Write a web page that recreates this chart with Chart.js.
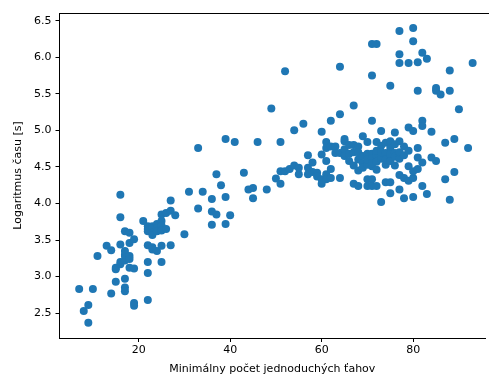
<!DOCTYPE html>
<html>
<head>
<meta charset="utf-8">
<script src="https://cdn.jsdelivr.net/npm/chart.js@4/dist/chart.umd.min.js"></script>
<style>
html,body{margin:0;padding:0;background:#fff;overflow:hidden;}
#wrap{position:absolute;left:0;top:0;width:489px;height:379px;}
</style>
</head>
<body>
<div id="wrap"><canvas id="c" width="489" height="379"></canvas></div>
<script>
const xLabel = "Minimálny počet jednoduchých ťahov";
const yLabel = "Logaritmus času [s]";
const xTicks = [20, 40, 60, 80];
const yTicks = [2.5, 3.0, 3.5, 4.0, 4.5, 5.0, 5.5, 6.0, 6.5];

const moves = [
 7,8,9,9,10,11,13,14,14,15,15,15,16,16,16,16,16,17,17,17,17,17,17,17,17,18,18,18,18,18,19,19,19,19,
 21,22,22,22,22,22,22,22,23,23,23,23,23,23,24,24,24,24,25,25,25,25,25,25,26,26,27,27,27,28,30,31,33,33,34,36,36,36,37,37,38,39,39,39,40,41,43,44,45,45,46,48,49,50,51,51,51,52,52,53,54,54,55,55,56,
 57,57,57,58,58,59,59,60,60,60,60,61,61,61,61,61,62,62,62,62,63,63,64,64,64,64,65,65,65,65,66,66,66,67,67,67,67,67,68,68,68,68,68,69,69,69,69,
 70,70,70,70,70,70,71,71,71,71,71,71,71,71,71,72,72,72,72,72,72,72,73,73,73,73,73,74,74,74,74,74,75,75,75,75,75,75,75,76,76,76,76,76,
 77,77,77,77,77,77,77,77,78,78,78,78,79,79,79,79,79,80,80,80,80,80,80,81,81,81,81,81,82,82,82,82,82,83,83,84,84,85,85,85,86,87,87,88,88,88,89,89,90,92,93
];
const logTime = [
 2.83,2.53,2.61,2.37,2.83,3.28,3.42,3.36,2.77,3.12,3.10,2.93,4.12,3.81,3.44,3.17,3.20,3.62,3.35,3.28,3.22,3.30,2.97,2.85,2.80,3.60,3.46,3.28,3.24,3.12,3.51,3.11,2.64,2.60,
 3.76,3.43,3.20,3.05,2.68,3.69,3.65,3.62,3.69,3.66,3.60,3.57,3.40,3.37,3.72,3.66,3.62,3.35,3.76,3.85,3.70,3.63,3.42,3.20,3.65,3.87,4.04,3.90,3.43,3.84,3.58,4.16,3.93,4.76,4.16,4.06,3.89,3.71,4.40,3.85,4.25,4.09,3.72,4.88,3.84,4.84,4.42,4.19,4.21,4.07,4.84,4.19,5.30,4.34,4.27,4.44,4.84,5.81,4.44,4.47,4.52,5.00,4.40,4.49,5.09,
 4.66,4.49,4.40,4.56,4.43,4.42,4.37,4.98,4.67,4.33,4.27,4.84,4.76,4.58,4.40,4.33,5.13,4.78,4.47,4.35,4.78,4.69,5.87,5.22,4.69,4.35,4.85,4.74,4.65,4.88,4.80,4.68,4.58,5.34,4.80,4.70,4.52,4.27,4.78,4.70,4.45,4.24,4.60,4.92,4.55,4.49,4.65,
 4.84,4.68,4.53,4.33,4.24,4.60,6.18,5.75,5.13,4.68,4.62,4.51,4.33,4.24,4.55,6.18,4.84,4.66,4.57,4.46,4.24,4.72,4.99,4.79,4.61,4.02,4.70,4.83,4.69,4.53,4.29,4.60,5.61,4.85,4.76,4.67,4.29,4.14,4.58,4.97,4.81,4.69,4.64,4.52,
 6.36,6.04,5.92,4.85,4.61,4.39,4.19,4.70,4.78,4.66,4.35,4.07,5.92,5.04,4.72,4.51,4.31,6.40,6.22,4.99,4.35,4.09,4.44,5.93,5.54,4.76,4.63,4.47,6.06,5.13,5.06,4.56,4.24,5.98,4.13,4.98,4.63,5.58,5.54,4.58,5.49,4.83,4.33,5.82,5.54,4.05,4.88,4.43,5.29,4.76,5.92
];

const points = moves.map((m, i) => ({x: m, y: logTime[i]}));

// top spine (right spine lies outside the picture)
const frame = {
  id: 'frame',
  afterDraw(chart) {
    const a = chart.chartArea, ctx = chart.ctx;
    ctx.save();
    ctx.strokeStyle = '#000';
    ctx.lineWidth = 1;
    ctx.beginPath();
    ctx.moveTo(a.left, Math.round(a.top) + 0.5);
    ctx.lineTo(chart.width, Math.round(a.top) + 0.5);
    ctx.stroke();
    ctx.restore();
  }
};

const font = {family: 'DejaVu Sans', size: 11};

new Chart(document.getElementById('c'), {
  type: 'scatter',
  data: {datasets: [{
    data: points,
    backgroundColor: '#1f77b4',
    borderColor: '#1f77b4',
    borderWidth: 0,
    pointRadius: 4,
    pointHoverRadius: 4
  }]},
  options: {
    responsive: false,
    animation: false,
    layout: {padding: {top: 13, right: 0, left: 0, bottom: 0}},
    plugins: {legend: {display: false}, tooltip: {enabled: false}},
    scales: {
      x: {
        type: 'linear', min: 2.7, max: 95.7,
        afterFit(s) { s.height = 41; s.paddingLeft = 0; s.paddingRight = 0; },
        afterBuildTicks(s) { s.ticks = xTicks.map(v => ({value: v})); },
        grid: {drawOnChartArea: false, drawTicks: true, tickLength: 4, color: '#000'},
        border: {display: true, color: '#000'},
        ticks: {color: '#000', font, padding: 2, maxRotation: 0},
        title: {display: true, text: xLabel, color: '#000', font, padding: {top: 0, bottom: 3}}
      },
      y: {
        type: 'linear', min: 2.16, max: 6.605,
        afterFit(s) { s.width = 59.5; },
        afterBuildTicks(s) { s.ticks = yTicks.map(v => ({value: v})); },
        grid: {drawOnChartArea: false, drawTicks: true, tickLength: 4, color: '#000'},
        border: {display: true, color: '#000'},
        ticks: {color: '#000', font, padding: 4, callback: v => v.toFixed(1)},
        title: {display: true, text: yLabel, color: '#000', font, padding: {top: 12, bottom: 0}}
      }
    }
  },
  plugins: [frame]
});
</script>
</body>
</html>
